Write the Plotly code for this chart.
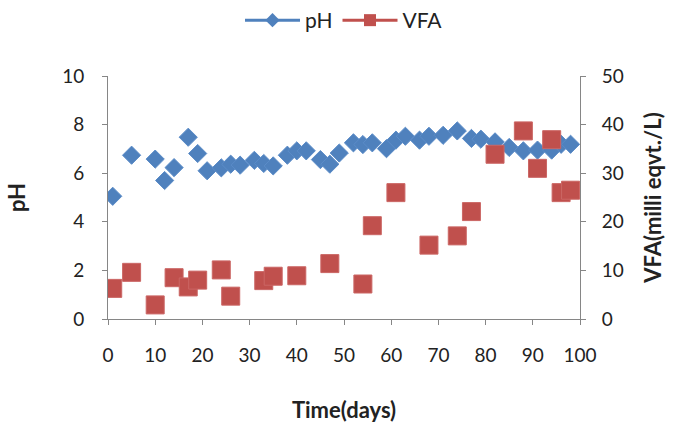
import plotly.graph_objects as go

# Time (days) and pH readings
ph_days = [1, 5, 10, 12, 14, 17, 19, 21, 24, 26, 28, 31, 33, 35, 38, 40, 42, 45, 47, 49,
           52, 54, 56, 59, 61, 63, 66, 68, 71, 74, 77, 79, 82, 85, 88, 91, 94, 96, 98]
ph_values = [5.05, 6.74, 6.58, 5.70, 6.23, 7.48, 6.81, 6.10, 6.22, 6.37, 6.33, 6.53, 6.40, 6.30,
             6.74, 6.92, 6.92, 6.56, 6.37, 6.83, 7.25, 7.18, 7.25, 7.01, 7.36, 7.52, 7.36, 7.52,
             7.56, 7.74, 7.43, 7.40, 7.29, 7.06, 6.92, 6.95, 6.95, 7.19, 7.19]

# Time (days) and volatile fatty acid concentration (milli eqvt./L)
vfa_days = [1, 5, 10, 14, 17, 19, 24, 26, 33, 35, 40, 47, 54, 56, 61, 68, 74, 77, 82, 88,
            91, 94, 96, 98]
vfa_values = [6.3, 9.6, 2.9, 8.5, 6.6, 8.0, 10.1, 4.7, 7.9, 8.8, 8.9, 11.4, 7.2, 19.2, 26.0,
              15.2, 17.1, 22.1, 33.9, 38.7, 31.0, 36.9, 26.0, 26.5]

BLUE = "#4F81BD"
RED = "#C0504D"
AXIS = "#868686"
FONT = "Lato"
TEXT = "#222222"

fig = go.Figure()

fig.add_trace(go.Scatter(
    x=ph_days, y=ph_values, mode="markers", name="pH", showlegend=False,
    marker=dict(symbol="diamond", size=14, color=BLUE, line=dict(width=1, color="#5B8CC8")),
))
fig.add_trace(go.Scatter(
    x=vfa_days, y=vfa_values, mode="markers", name="VFA", yaxis="y2", showlegend=False,
    marker=dict(symbol="square", size=18, color=RED, line=dict(width=1, color="#CB6664")),
))

# Legend entries (line + marker keys)
fig.add_trace(go.Scatter(
    x=[None], y=[None], mode="lines+markers", name="pH",
    line=dict(color=BLUE, width=3),
    marker=dict(symbol="diamond", size=11, color=BLUE),
))
fig.add_trace(go.Scatter(
    x=[None], y=[None], mode="lines+markers", name="VFA", yaxis="y2",
    line=dict(color=RED, width=3),
    marker=dict(symbol="square", size=12, color=RED),
))

axis_common = dict(
    showline=True, linecolor=AXIS, linewidth=1,
    ticks="outside", ticklen=5, tickcolor=AXIS, tickwidth=1,
    showgrid=False, zeroline=False, automargin=False,
    tickfont=dict(family=FONT, size=19, color=TEXT),
)

title_font = dict(family=FONT, size=22, color=TEXT)

fig.update_layout(
    width=681, height=426,
    margin=dict(l=108, r=101, t=76, b=107),
    paper_bgcolor="white", plot_bgcolor="white",
    font=dict(family=FONT, size=19, color=TEXT),
    xaxis=dict(
        range=[0, 100], dtick=10, tick0=0,
        title=dict(text="<b>Time(days)</b>", font=title_font, standoff=37),
        ticklabelstandoff=14,
        **axis_common,
    ),
    yaxis=dict(
        range=[0, 10], dtick=2, tick0=0,
        title=dict(text="<b>pH</b>", font=title_font, standoff=30),
        ticklabelstandoff=14,
        **axis_common,
    ),
    yaxis2=dict(
        range=[0, 50], dtick=10, tick0=0, overlaying="y", side="right",
        title=dict(text="<b>VFA(milli eqvt./L)</b>", font=title_font, standoff=22),
        ticklabelstandoff=12,
        **axis_common,
    ),
    legend=dict(
        orientation="h", x=0.5, xanchor="center", y=1.0, yanchor="top",
        yref="container", itemwidth=55,
        font=dict(family=FONT, size=21, color=TEXT),
        bgcolor="rgba(0,0,0,0)",
    ),
)

fig.write_html("out.html")
